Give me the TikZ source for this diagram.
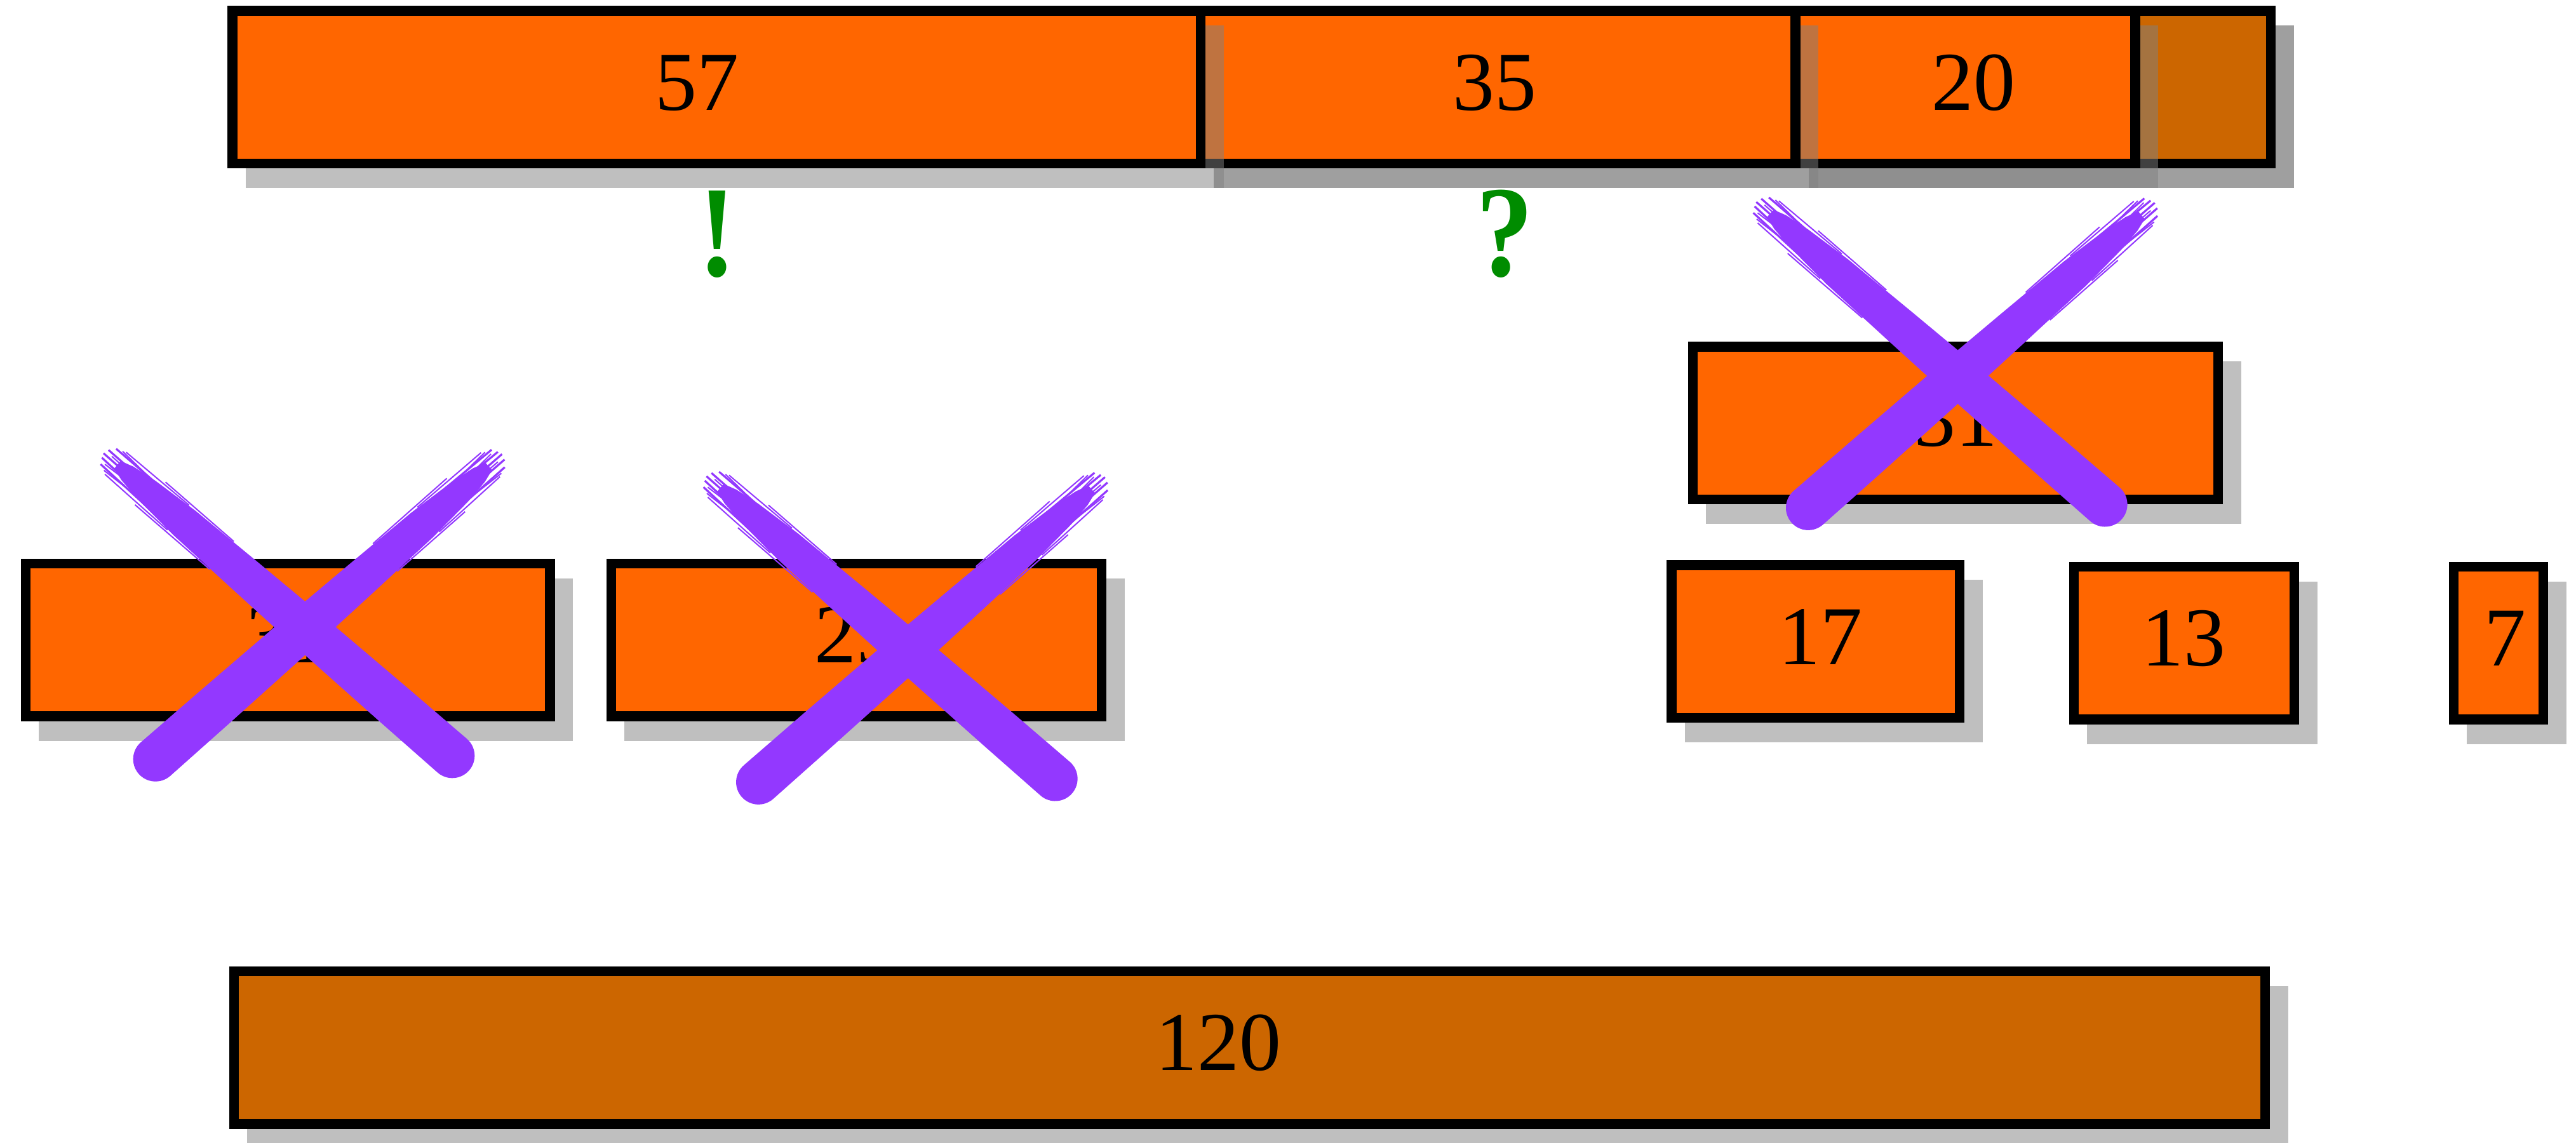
\documentclass[tikz,border=0pt]{standalone}
\usepackage{fontspec}
\setmainfont{Liberation Serif}
\definecolor{orng}{HTML}{FF6600}
\definecolor{dorng}{HTML}{CC6600}
\definecolor{xpurple}{HTML}{9338FF}
\definecolor{qgreen}{HTML}{008C00}
\tikzset{
  itembox/.style={draw=black, line width=0.12cm, inner sep=0pt,
    text height=0.69cm, text depth=0.13cm, font=\fontsize{29}{34}\selectfont},
  shadowfill/.style={fill=gray, opacity=0.5},
  qsign/.style={text=qgreen, inner sep=0pt, anchor=base, xscale=0.88, transform shape,
    font=\fontsize{45}{50}\selectfont\bfseries},
  hair/.style={draw=xpurple, line width=0.7pt},
  thinhair/.style={draw=xpurple, line width=0.45pt}
}
% name, cx, cy, width, height, fill, label, label shift (twice the wanted offset)
\newcommand\itemrect[8]{%
  \fill[shadowfill] ({#2-#4/2+8},{#3-#5/2+9}) rectangle ({#2+#4/2+14},{#3+#5/2+15});
  \node[itembox, fill=#6, minimum width={#4*0.02cm}, minimum height={#5*0.02cm}] (#1) at (#2,#3) {\hspace*{#8}#7};
}
% brush stroke: start x, start y, angle
\newcommand\brushstroke[3]{%
  \begin{scope}[shift={(#1,#2)}, rotate=#3]
    \fill[xpurple] (6,3) -- (14,5.5) -- (30,7.8) -- (60,10) -- (110,11.3) -- (170,12.6)
      -- (230,13.3) -- (276,13.6) arc[start angle=90, end angle=-90, radius=13.6]
      -- (230,-13.3) -- (170,-12.6) -- (110,-11.3) -- (60,-10) -- (30,-7.8) -- (14,-5.5)
      -- (6,-3) -- cycle;
    \draw[hair] (35,7.5) -- (-2,6.5);
    \draw[hair] (30,4) -- (-4,3);
    \draw[hair] (25,0.5) -- (-5,0.3);
    \draw[hair] (30,-3) -- (-4,-3.2);
    \draw[hair] (35,-7) -- (-1,-6.8);
    \draw[thinhair] (55,10) -- (4,9.4);
    \draw[thinhair] (55,-10) -- (5,-9.2);
    \draw[thinhair] (90,11.2) -- (30,11.4);
    \draw[thinhair] (90,-11.2) -- (35,-11.2);
    \draw[thinhair] (45,2) -- (0,4.8);
    \draw[thinhair] (45,-1) -- (0,-1.6);
    \draw[thinhair] (60,5) -- (2,8);
    \draw[thinhair] (60,-5) -- (3,-8.2);
  \end{scope}}
\newcommand\xcross[2]{%
  \brushstroke{67+#1}{279+#2}{-41}
  \brushstroke{302+#1}{280+#2}{-138.7}}
\begin{document}
\begin{tikzpicture}[x=0.02cm, y=-0.02cm]
  \useasboundingbox (0,0) rectangle (1568,695.5);
  % top bar: free space first, then the items from right to left
  \itemrect{free63}{1056.6}{53}{651.4}{93}{dorng}{}{0cm}
  \itemrect{free28}{1237.55}{53}{289.5}{93}{dorng}{}{0cm}
  \itemrect{t20}{1196.2}{53}{206.8}{93}{orng}{20}{0.2cm}
  \itemrect{t35}{911.85}{53}{361.9}{93}{orng}{35}{-0.08cm}
  \itemrect{t57}{436.2}{53}{589.4}{93}{orng}{57}{-0.48cm}
  % signs
  \node[qsign] (bang) at (436.5,168) {!};
  \node[qsign] (query) at (916,168) {?};
  % other items
  \itemrect{b31}{1190.3}{257.5}{319.8}{93}{orng}{31}{0cm}
  \itemrect{a31}{175.15}{389.5}{319.1}{93}{orng}{31}{0cm}
  \itemrect{a29}{521.3}{389.5}{298.6}{93}{orng}{29}{0cm}
  \itemrect{c17}{1105.15}{390.5}{175.3}{93}{orng}{17}{0.12cm}
  \itemrect{c13}{1329.4}{391.5}{134.2}{93}{orng}{13}{0cm}
  \itemrect{c7}{1520.8}{391.5}{54.4}{93}{orng}{7}{0.16cm}
  % container
  \itemrect{cap}{760.55}{637.7}{1236.3}{93}{dorng}{120}{-0.76cm}
  % crosses
  \xcross{0}{0}
  \xcross{367}{14}
  \xcross{1006}{-153}
\end{tikzpicture}
\end{document}
